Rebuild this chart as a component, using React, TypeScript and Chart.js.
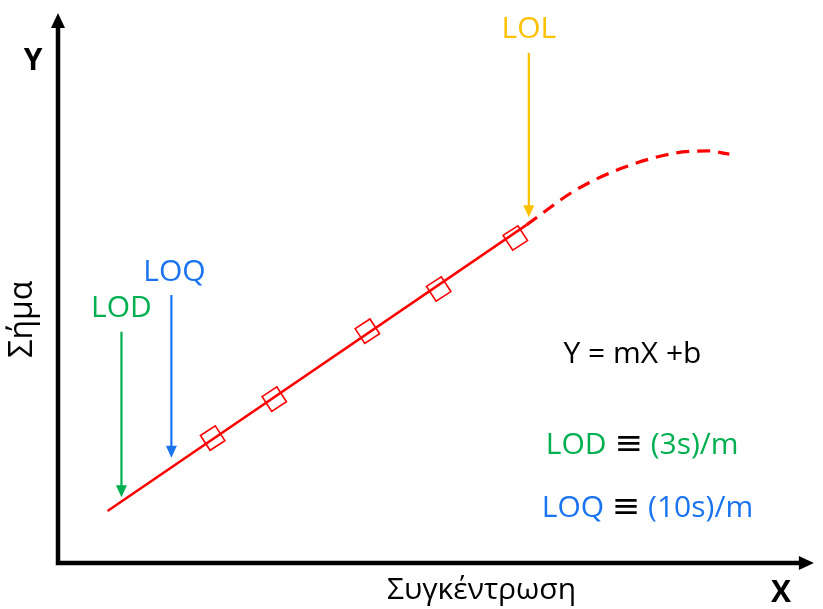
import React, { useEffect, useRef } from "react";
import { Chart, registerables } from "chart.js";

Chart.register(...registerables);

// Calibration line (solid)
const fitX = [6.6, 62.4];
const fitY = [9.5, 61.7];
// Calibration standards (diamonds)
const stdX = [20.6, 28.8, 41.2, 50.7, 60.9];
const stdY = [22.8, 29.9, 42.3, 50.0, 59.3];
// Non-linear region (dashed)
const curveX = [62.4, 69.0, 75.6, 82.2, 86.5, 89.4];
const curveY = [61.7, 68.1, 72.3, 74.8, 75.2, 74.6];

// Limit markers: label, x, arrow top y, arrow tip y, label y
const limitLabels = ["LOD", "LOQ", "LOL"];
const limitX = [8.45, 15.1, 62.7];
const limitTop = [42.2, 48.9, 93.1];
const limitTip = [12.0, 19.2, 63.1];
const limitTextY = [46.4, 53.1, 97.3];
const limitColors = ["#00b050", "#1a73f0", "#ffc000"];

const yTitle = "Σήμα";
const xTitle = "Συγκέντρωση";
const eqText = "Y = mX +b";

const FONT = "'Open Sans', 'Noto Sans', sans-serif";

export default function App() {
  const ref = useRef<HTMLCanvasElement>(null);

  useEffect(() => {
    if (!ref.current) return;
    const overlay = {
      id: "overlay",
      afterDraw(chart: any) {
        const ctx = chart.ctx as CanvasRenderingContext2D;
        const a = chart.chartArea;
        const xs = chart.scales.x;
        const ys = chart.scales.y;
        ctx.save();
        // axes
        ctx.strokeStyle = "#000";
        ctx.fillStyle = "#000";
        ctx.lineWidth = 4.5;
        ctx.beginPath();
        ctx.moveTo(a.left, a.top + 10);
        ctx.lineTo(a.left, a.bottom);
        ctx.lineTo(a.right - 4, a.bottom);
        ctx.stroke();
        // arrow heads
        ctx.beginPath();
        ctx.moveTo(a.left, a.top - 2);
        ctx.lineTo(a.left - 7, a.top + 13);
        ctx.lineTo(a.left + 7, a.top + 13);
        ctx.closePath();
        ctx.fill();
        ctx.beginPath();
        ctx.moveTo(a.right + 5, a.bottom);
        ctx.lineTo(a.right - 10, a.bottom - 7);
        ctx.lineTo(a.right - 10, a.bottom + 7);
        ctx.closePath();
        ctx.fill();

        // axis letters
        ctx.textAlign = "center";
        ctx.textBaseline = "middle";
        ctx.font = `bold 30px ${FONT}`;
        ctx.fillText("Y", a.left - 25, a.top + 46);
        ctx.fillText("X", a.right - 28, a.bottom + 30);

        // axis titles
        ctx.font = `30px ${FONT}`;
        ctx.fillText(xTitle, xs.getPixelForValue(56.4), a.bottom + 27);
        ctx.save();
        ctx.font = `32px ${FONT}`;
        ctx.translate(a.left - 35, ys.getPixelForValue(44.5));
        ctx.rotate(-Math.PI / 2);
        ctx.fillText(yTitle, 0, 0);
        ctx.restore();

        // limit arrows
        for (let i = 0; i < limitLabels.length; i++) {
          const px = xs.getPixelForValue(limitX[i]);
          const pt = ys.getPixelForValue(limitTop[i]);
          const pb = ys.getPixelForValue(limitTip[i]);
          const py = ys.getPixelForValue(limitTextY[i]);
          ctx.strokeStyle = limitColors[i];
          ctx.fillStyle = limitColors[i];
          ctx.lineWidth = 2.2;
          ctx.beginPath();
          ctx.moveTo(px, pt);
          ctx.lineTo(px, pb - 8);
          ctx.stroke();
          ctx.beginPath();
          ctx.moveTo(px, pb);
          ctx.lineTo(px - 5.5, pb - 12);
          ctx.lineTo(px + 5.5, pb - 12);
          ctx.closePath();
          ctx.fill();
          ctx.font = `30px ${FONT}`;
          ctx.fillText(limitLabels[i], px + (i === 1 ? 3 : 0), py);
        }

        // equation
        ctx.fillStyle = "#000";
        ctx.font = `30px ${FONT}`;
        ctx.fillText(eqText, xs.getPixelForValue(76.5), ys.getPixelForValue(38.0));

        // formulas with black ≡
        const drawParts = (parts: [string, string, string][], cx: number, cy: number) => {
          let total = 0;
          for (const p of parts) {
            ctx.font = p[2];
            total += ctx.measureText(p[0]).width;
          }
          let x = cx - total / 2;
          ctx.textAlign = "left";
          for (const p of parts) {
            ctx.font = p[2];
            ctx.fillStyle = p[1];
            ctx.fillText(p[0], x, cy);
            x += ctx.measureText(p[0]).width;
          }
          ctx.textAlign = "center";
        };
        const f = `30px ${FONT}`;
        const fe = `34px 'DejaVu Sans', ${FONT}`;
        drawParts(
          [["LOD ", limitColors[0], f], ["≡", "#000", fe], [" (3s)/m", limitColors[0], f]],
          xs.getPixelForValue(77.8),
          ys.getPixelForValue(21.5)
        );
        drawParts(
          [["LOQ ", limitColors[1], f], ["≡", "#000", fe], [" (10s)/m", limitColors[1], f]],
          xs.getPixelForValue(78.5),
          ys.getPixelForValue(10.0)
        );
        ctx.restore();
      },
    };

    const chart = new Chart(ref.current, {
      type: "scatter",
      data: {
        datasets: [
          {
            data: fitX.map((x, i) => ({ x, y: fitY[i] })),
            showLine: true,
            borderColor: "#ff0000",
            borderWidth: 2.5,
            pointRadius: 0,
          },
          {
            data: curveX.map((x, i) => ({ x, y: curveY[i] })),
            showLine: true,
            borderColor: "#ff0000",
            borderWidth: 3.2,
            borderDash: [13, 8],
            cubicInterpolationMode: "monotone",
            pointRadius: 0,
          },
          {
            data: stdX.map((x, i) => ({ x, y: stdY[i] })),
            pointStyle: "rect",
            pointRotation: -33,
            pointRadius: 12.5,
            pointBackgroundColor: "rgba(255,255,255,0)",
            pointBorderColor: "#ff0000",
            pointBorderWidth: 1.6,
          },
        ],
      } as any,
      options: {
        responsive: false,
        animation: false,
        layout: { padding: { left: 58, right: 8, top: 15, bottom: 46 } },
        plugins: { legend: { display: false }, tooltip: { enabled: false } },
        scales: {
          x: { type: "linear", min: 0, max: 100, display: false },
          y: { type: "linear", min: 0, max: 100, display: false },
        },
      },
      plugins: [overlay],
    });
    return () => chart.destroy();
  }, []);

  return (
    <div style={{ position: "fixed", left: 0, top: 0, width: 823, height: 609, background: "#fff" }}>
      <canvas ref={ref} width={823} height={609} />
    </div>
  );
}
